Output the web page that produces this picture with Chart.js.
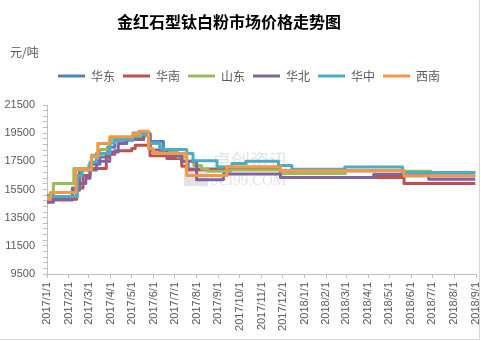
<!DOCTYPE html>
<html>
<head>
<meta charset="utf-8">
<script src="https://cdn.jsdelivr.net/npm/chart.js@4.4.0/dist/chart.umd.min.js"></script>
<style>
  html, body { margin: 0; padding: 0; background: #fff; }
  #wrap { width: 481px; height: 341px; }
</style>
</head>
<body>
<div id="wrap"><canvas id="priceChart" width="481" height="341"></canvas></div>
<script>
// Month ticks on the date axis
var monthTicks = ['2017/1/1', '2017/2/1', '2017/3/1', '2017/4/1', '2017/5/1', '2017/6/1', '2017/7/1',
    '2017/8/1', '2017/9/1', '2017/10/1', '2017/11/1', '2017/12/1', '2018/1/1', '2018/2/1',
    '2018/3/1', '2018/4/1', '2018/5/1', '2018/6/1', '2018/7/1', '2018/8/1', '2018/9/1'];

// Price changes per region: [date, price in 元/吨], price holds until next date
var huadong = [['2017/1/1', 15000], ['2017/2/6', 15600], ['2017/2/16', 16900], ['2017/3/3', 17300],
    ['2017/3/17', 17800], ['2017/3/28', 18500], ['2017/4/7', 19000], ['2017/5/3', 19200],
    ['2017/5/18', 19500], ['2017/5/27', 18900], ['2017/6/15', 18300], ['2017/6/29', 17900],
    ['2017/7/11', 17500], ['2017/7/20', 16950], ['2017/11/28', 16830], ['2018/5/22', 16470],
    ['2018/8/31', 16470]];
var huanan = [['2017/1/1', 14800], ['2017/2/12', 15600], ['2017/2/21', 16500], ['2017/3/3', 17000],
    ['2017/3/26', 18000], ['2017/4/7', 18250], ['2017/5/1', 18420], ['2017/5/6', 18650],
    ['2017/5/27', 17900], ['2017/6/20', 17700], ['2017/7/11', 17150], ['2017/7/18', 16900],
    ['2017/9/13', 17000], ['2017/11/28', 16360], ['2018/5/22', 15930], ['2018/8/31', 15930]];
var shandong = [['2017/1/1', 15000], ['2017/1/10', 15930], ['2017/2/8', 17000], ['2017/3/1', 17230],
    ['2017/3/5', 17940], ['2017/3/17', 18340], ['2017/3/31', 19050], ['2017/5/3', 19300],
    ['2017/5/27', 18770], ['2017/6/10', 18170], ['2017/7/5', 17800], ['2017/7/18', 17500],
    ['2017/7/28', 17200], ['2017/8/8', 16950], ['2017/8/17', 16800], ['2017/9/18', 16880],
    ['2017/11/30', 16640], ['2018/2/28', 16830], ['2018/5/22', 16790], ['2018/6/29', 16700],
    ['2018/8/31', 16700]];
var huabei = [['2017/1/1', 14600], ['2017/1/10', 14750], ['2017/2/6', 15450], ['2017/2/16', 15930],
    ['2017/2/25', 16300], ['2017/3/3', 16880], ['2017/3/12', 17510], ['2017/3/31', 18170],
    ['2017/4/12', 18770], ['2017/4/24', 19050], ['2017/5/18', 19400], ['2017/5/27', 18300],
    ['2017/6/20', 17900], ['2017/7/11', 17500], ['2017/8/1', 16200], ['2017/9/8', 16600],
    ['2017/11/28', 16360], ['2018/4/9', 16570], ['2018/6/26', 16220], ['2018/8/31', 16220]];
var huazhong = [['2017/1/1', 15100], ['2017/1/10', 15000], ['2017/2/13', 16500], ['2017/2/20', 16880],
    ['2017/3/3', 17460], ['2017/3/12', 18060], ['2017/3/31', 18810], ['2017/4/7', 19050],
    ['2017/5/3', 19520], ['2017/5/18', 19400], ['2017/5/25', 18810], ['2017/6/10', 18420],
    ['2017/6/15', 18340], ['2017/7/18', 18060], ['2017/7/27', 17550], ['2017/8/30', 17100],
    ['2017/9/20', 17350], ['2017/10/10', 17500], ['2017/11/25', 17200], ['2017/12/14', 16930],
    ['2018/2/27', 17100], ['2018/5/20', 16700], ['2018/8/31', 16700]];
var xinan = [['2017/1/1', 14800], ['2017/1/6', 15280], ['2017/2/11', 16900], ['2017/3/5', 17820],
    ['2017/3/14', 18770], ['2017/3/31', 19250], ['2017/5/3', 19450], ['2017/5/11', 19640],
    ['2017/5/25', 18400], ['2017/6/1', 18050], ['2017/7/18', 16500], ['2017/9/13', 17110],
    ['2017/11/28', 16830], ['2018/5/22', 16470], ['2018/8/31', 16470]];

var regions = ['华东', '华南', '山东', '华北', '华中', '西南'];
var colors = ['#4F81BD', '#C0504D', '#9BBB59', '#8064A2', '#4BACC6', '#F79646'];
var seriesList = [huadong, huanan, shandong, huabei, huazhong, xinan];

// days since 2017/1/1
function day(s) {
    var p = s.split('/').map(Number);
    return (Date.UTC(p[0], p[1] - 1, p[2]) - Date.UTC(2017, 0, 1)) / 864e5;
}

var datasets = seriesList.map(function (s, i) {
    return {
        label: regions[i],
        data: s.map(function (p) { return { x: day(p[0]), y: p[1] }; }),
        borderColor: colors[i],
        backgroundColor: colors[i],
        borderWidth: 3,
        pointRadius: 0,
        stepped: true,
        borderJoinStyle: 'round',
        order: seriesList.length - i
    };
});

// title, unit, watermark and frame
var extras = {
    id: 'extras',
    beforeInit: function (chart) {
        var fit = chart.legend.fit;
        chart.legend.fit = function () {
            fit.call(this);
            this.height += 13;
        };
    },
    afterLayout: function (chart) {
        // nudge the legend row to the right like the original
        chart.legend.left += 22;
    },
    beforeDatasetsDraw: function (chart) {
        var ctx = chart.ctx;
        ctx.save();
        ctx.fillStyle = '#e3e3e3';
        ctx.fillRect(184, 168, 24, 18);
        ctx.font = '19px "Noto Sans CJK SC"';
        ctx.textBaseline = 'middle';
        ctx.fillText('卓创资讯', 212, 161);
        ctx.font = '15px "Liberation Serif"';
        ctx.fillText('SCI99.COM', 210, 181);
        ctx.restore();
    },
    afterDraw: function (chart) {
        var ctx = chart.ctx;
        ctx.save();
        ctx.fillStyle = '#000';
        ctx.font = 'bold 16px "Noto Sans CJK SC"';
        ctx.textAlign = 'center';
        ctx.textBaseline = 'middle';
        ctx.fillText('金红石型钛白粉市场价格走势图', 229, 22);
        ctx.fillStyle = '#595959';
        ctx.font = '12px "Noto Sans CJK SC"';
        ctx.textAlign = 'left';
        ctx.fillText('元/吨', 10, 52);
        ctx.strokeStyle = '#d9d9d9';
        ctx.lineWidth = 1;
        ctx.beginPath();
        ctx.moveTo(479.5, 0);
        ctx.lineTo(479.5, 339.5);
        ctx.lineTo(0, 339.5);
        ctx.stroke();
        ctx.restore();
    }
};

var ctx = document.getElementById('priceChart').getContext('2d');
var chart = new Chart(ctx, {
    type: 'line',
    data: { datasets: datasets },
    plugins: [extras],
    options: {
        responsive: false,
        animation: false,
        layout: { padding: { left: 0, right: 5, top: 62, bottom: 7 } },
        plugins: {
            tooltip: { enabled: false },
            legend: {
                position: 'top',
                reverse: true,
                labels: {
                    boxWidth: 27,
                    boxHeight: 3,
                    padding: 8,
                    color: '#595959',
                    font: { family: '"Noto Sans CJK SC"', size: 12 },
                    generateLabels: function (chart) {
                        return Chart.defaults.plugins.legend.labels.generateLabels(chart).map(function (l) {
                            l.lineWidth = 0;
                            return l;
                        });
                    }
                }
            }
        },
        scales: {
            x: {
                type: 'linear',
                min: day(monthTicks[0]),
                max: day(monthTicks[monthTicks.length - 1]),
                afterBuildTicks: function (scale) {
                    scale.ticks = monthTicks.map(function (s) { return { value: day(s) }; });
                },
                afterFit: function (scale) {
                    scale.height = 60;
                    scale.paddingLeft = 0;
                    scale.paddingRight = 0;
                },
                ticks: {
                    autoSkip: false,
                    minRotation: 90,
                    maxRotation: 90,
                    padding: 4,
                    color: '#595959',
                    font: { family: '"Liberation Sans"', size: 11 },
                    callback: function (v, i) { return monthTicks[i]; }
                },
                grid: { drawOnChartArea: false, tickLength: 4, color: '#bfbfbf' },
                border: { color: '#bfbfbf' }
            },
            y: {
                min: 9500,
                max: 21500,
                afterBuildTicks: function (scale) {
                    var t = [];
                    for (var v = 9500; v <= 21500; v += 400) t.push({ value: v });
                    scale.ticks = t;
                },
                afterFit: function (scale) { scale.width = 47; },
                ticks: {
                    autoSkip: false,
                    padding: 8,
                    color: '#595959',
                    font: { family: '"Liberation Sans"', size: 11 },
                    callback: function (v) { return (v - 9500) % 2000 === 0 ? String(v) : ''; }
                },
                grid: { drawOnChartArea: false, tickLength: 4, color: '#bfbfbf' },
                border: { color: '#bfbfbf' }
            }
        }
    }
});
</script>
</body>
</html>
